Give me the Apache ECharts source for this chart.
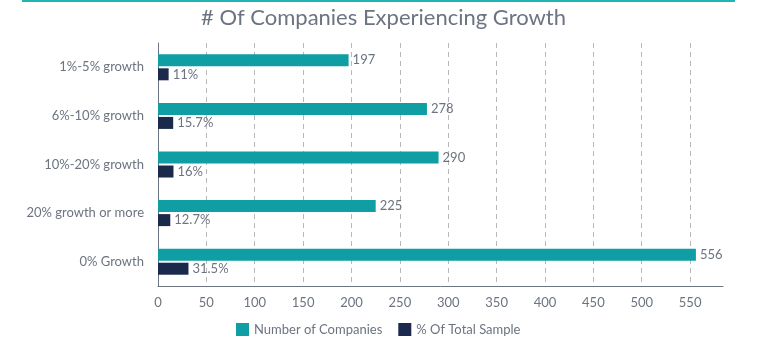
<!DOCTYPE html>
<html>
<head>
<meta charset="utf-8">
<script src="https://cdn.jsdelivr.net/npm/echarts@6/dist/echarts.min.js"></script>
<style>
  html, body { margin: 0; padding: 0; background: #fff; }
  #container { width: 781px; height: 353px; }
</style>
</head>
<body>
<div id="container"></div>
<script>
var categories = ['1%-5% growth', '6%-10% growth', '10%-20% growth', '20% growth or more', '0% Growth'];
var companyCounts = [197, 278, 290, 225, 556];
var samplePercents = [11, 15.7, 16, 12.7, 31.5];
var seriesNames = ['Number of Companies', '% Of Total Sample'];

var dom = document.getElementById('container');
var myChart = echarts.init(dom);
var textColor = '#6b7480';

var option = {
    animation: false,
    title: {
        text: '# Of Companies Experiencing Growth',
        left: 196,
        top: 2,
        textStyle: {
            fontFamily: 'Lato',
            fontWeight: 'normal',
            fontSize: 22,
            color: textColor
        }
    },
    graphic: [
        {
            type: 'rect',
            shape: { x: 22, y: 0, width: 713, height: 2 },
            style: { fill: '#1fb5b5' }
        }
    ],
    legend: {
        data: seriesNames,
        bottom: 12,
        left: 231,
        itemWidth: 13,
        itemHeight: 13,
        itemGap: 16,
        icon: 'rect',
        textStyle: {
            fontFamily: 'Lato',
            fontSize: 13,
            color: textColor
        }
    },
    grid: {
        left: 158,
        right: 58,
        top: 43,
        bottom: 67,
        containLabel: false
    },
    xAxis: {
        type: 'value',
        min: 0,
        max: 584,
        interval: 50,
        axisLine: { show: true, lineStyle: { color: '#6b7480', width: 1 } },
        axisTick: { show: false },
        axisLabel: {
            showMaxLabel: false,
            margin: 10,
            fontFamily: 'Lato',
            fontSize: 13,
            color: textColor
        },
        splitLine: {
            show: true,
            showMaxLine: false,
            lineStyle: { type: [5, 4], color: '#b8b8b8', width: 1 }
        }
    },
    yAxis: {
        type: 'category',
        inverse: true,
        data: categories,
        axisLine: { show: true, lineStyle: { color: '#6b7480', width: 1 } },
        axisTick: { show: false },
        axisLabel: {
            margin: 14,
            fontFamily: 'Lato',
            fontSize: 13,
            color: textColor
        }
    },
    series: [
        {
            name: seriesNames[0],
            type: 'bar',
            barWidth: 12,
            barGap: '17%',
            data: companyCounts,
            itemStyle: { color: '#0f9ea3' },
            label: {
                show: true,
                position: 'right',
                distance: 4,
                fontFamily: 'Lato',
                fontSize: 13,
                color: textColor
            }
        },
        {
            name: seriesNames[1],
            type: 'bar',
            barWidth: 12,
            data: samplePercents,
            itemStyle: { color: '#1b2a4c' },
            label: {
                show: true,
                position: 'right',
                distance: 4,
                fontFamily: 'Lato',
                fontSize: 13,
                color: textColor,
                formatter: function (p) { return p.value + '%'; }
            }
        }
    ]
};

myChart.setOption(option);
</script>
</body>
</html>
